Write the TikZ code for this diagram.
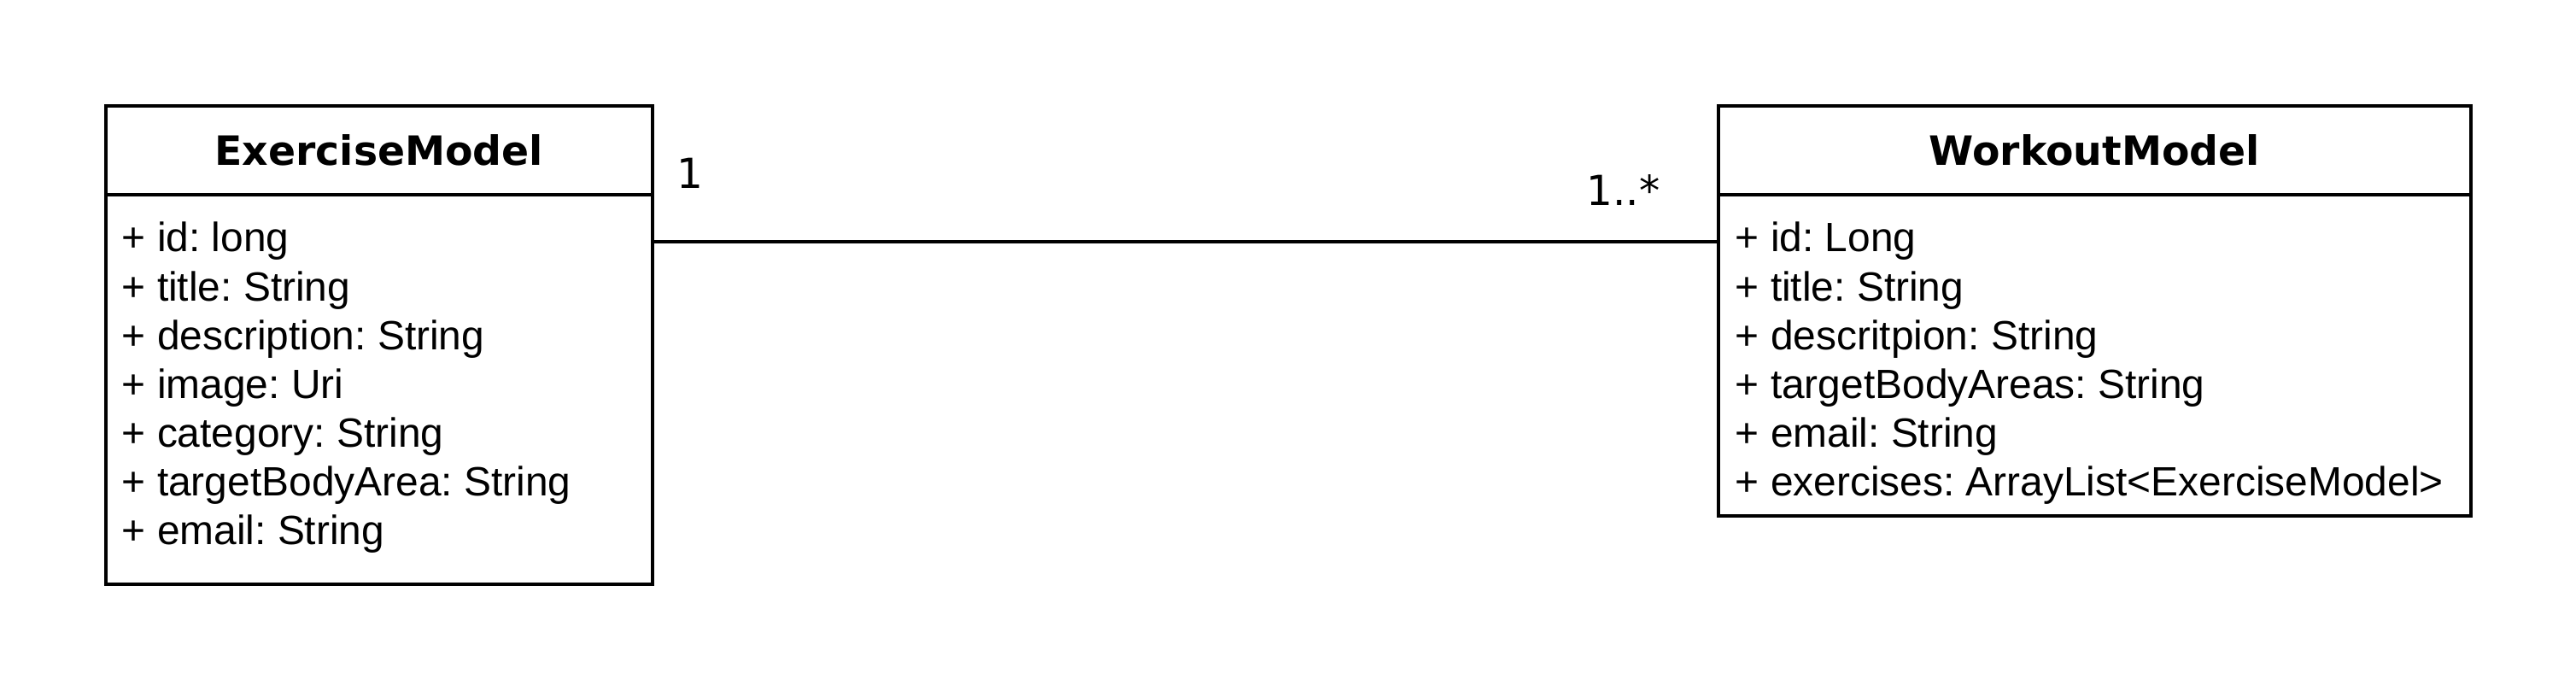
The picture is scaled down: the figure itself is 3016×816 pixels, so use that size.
\documentclass[tikz,border=0pt]{standalone}
\usepackage{fontspec}
\setmainfont{Liberation Sans}
\newfontfamily\dejavu{DejaVu Sans}
\usetikzlibrary{positioning}
\frenchspacing

\begin{document}
\begin{tikzpicture}[x=0.26pt, y=-0.26pt,
    head/.style={draw, line width=1pt, inner sep=0pt, anchor=north west,
        minimum height=27.04pt, font=\dejavu\bfseries\fontsize{12.3pt}{14pt}\selectfont},
    body/.style={draw, line width=1pt, inner sep=0pt, anchor=north west},
    attr/.style={inner sep=0pt, anchor=base west, font=\fontsize{12.45pt}{14.85pt}\selectfont},
    mult/.style={inner sep=0pt, font=\dejavu\fontsize{12.6pt}{14pt}\selectfont},
    assoc/.style={line width=1pt}]
    \useasboundingbox (0,0) rectangle (3016,816);

    % ExerciseModel
    \node[head, minimum width=166.4pt] (exHead) at (122,122) {ExerciseModel};
    \node[body, minimum width=166.4pt, minimum height=118.56pt] (exBody) at (122,226) {};
    \foreach \txt [count=\i] in {+ id: long, + title: String, + description: String,
        + image: Uri, + category: String, + targetBodyArea: String, + email: String}
        \node[attr] (ex-\i) at (142, {295+57.1*(\i-1)}) {\txt};

    % WorkoutModel
    \node[head, minimum width=229.06pt] (woHead) at (2010,122) {WorkoutModel};
    \node[body, minimum width=229.06pt, minimum height=97.76pt] (woBody) at (2010,226) {};
    \foreach \txt [count=\i] in {+ id: Long, + title: String, + descritpion: String,
        + targetBodyAreas: String, + email: String, + exercises: ArrayList<ExerciseModel>}
        \node[attr] (wo-\i) at (2031, {295+57.1*(\i-1)}) {\txt};

    % association
    \coordinate (lnk) at (0,283);
    \draw[assoc] (exBody.east |- lnk) -- (woBody.west |- lnk);
    \node[mult, anchor=base west] (m1) at (792,221) {1};
    \node[mult, anchor=base east] (m2) at (1944,241) {1..*};
\end{tikzpicture}
\end{document}
